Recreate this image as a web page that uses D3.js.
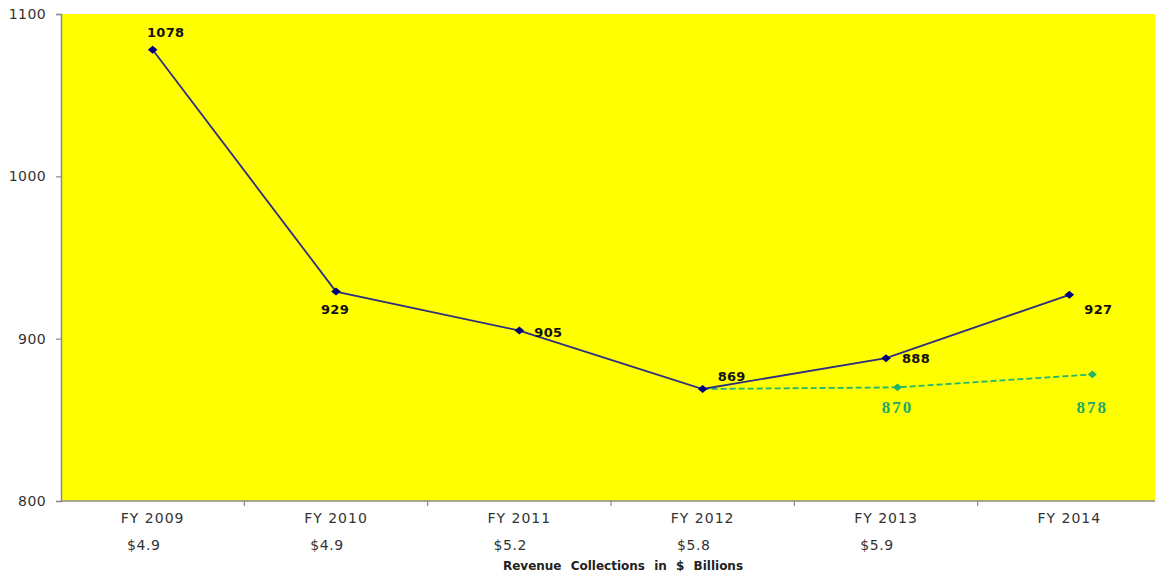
<!DOCTYPE html>
<html>
<head>
<meta charset="utf-8">
<script src="https://cdn.jsdelivr.net/npm/d3@7"></script>
<style>
  html, body { margin: 0; padding: 0; background: #fff; }
  svg { display: block; }
</style>
</head>
<body>
<script>
// Fiscal years and the two series
const years = ["FY 2009", "FY 2010", "FY 2011", "FY 2012", "FY 2013", "FY 2014"];
const actual = [1078, 929, 905, 869, 888, 927];
const projectionYears = ["FY 2012", "FY 2013", "FY 2014"];
const projection = [869, 870, 878];
const revenue = ["$4.9", "$4.9", "$5.2", "$5.8", "$5.9", ""];
const yTicks = [800, 900, 1000, 1100];

const W = 1155, H = 577;
const plot = { left: 61, right: 1161, top: 14, bottom: 501 };
const sans = "'DejaVu Sans', Verdana, sans-serif";

const svg = d3.select("body").append("svg")
  .attr("width", W).attr("height", H);

const x = d3.scaleBand().domain(years).range([plot.left, plot.right]).padding(0);
const y = d3.scaleLinear().domain([800, 1100]).range([plot.bottom, plot.top]);
const cx = d => x(d) + x.bandwidth() / 2;
// the projection runs on its own, slightly wider category spacing
const xp = d3.scalePoint().domain(projectionYears).range([cx("FY 2012"), cx("FY 2014") + 23]);

// yellow plot area
svg.append("rect")
  .attr("x", plot.left).attr("y", plot.top)
  .attr("width", plot.right - plot.left).attr("height", plot.bottom - plot.top)
  .attr("fill", "#ffff00");

// y axis
const yAxis = svg.append("g")
  .attr("transform", `translate(${plot.left},0)`)
  .call(d3.axisLeft(y).tickValues(yTicks).tickSize(5).tickPadding(10).tickFormat(d3.format("d")));
yAxis.select(".domain").attr("stroke", "#8a8a8a").attr("stroke-width", 1.5);
yAxis.selectAll(".tick line").attr("stroke", "#8a8a8a").attr("stroke-width", 1.2);
yAxis.selectAll(".tick text")
  .attr("fill", "#333").style("font-family", sans)
  .style("font-size", "14px").style("letter-spacing", "0.4px");

// x axis: ticks at category boundaries
const xAxisG = svg.append("g").attr("transform", `translate(0,${plot.bottom})`);
xAxisG.append("line")
  .attr("x1", plot.left).attr("x2", plot.right)
  .attr("stroke", "#8a8a8a").attr("stroke-width", 1.5);
xAxisG.selectAll("line.tk")
  .data(years.slice(1))
  .join("line").attr("class", "tk")
  .attr("x1", d => x(d)).attr("x2", d => x(d))
  .attr("y1", 0).attr("y2", 5)
  .attr("stroke", "#8a8a8a").attr("stroke-width", 1.2);
xAxisG.selectAll("text.yr")
  .data(years)
  .join("text").attr("class", "yr")
  .attr("x", d => cx(d)).attr("y", 22)
  .attr("text-anchor", "middle")
  .attr("fill", "#333")
  .style("font-family", sans)
  .style("font-size", "14px").style("letter-spacing", "1px")
  .text(d => d);
xAxisG.selectAll("text.rev")
  .data(years)
  .join("text").attr("class", "rev")
  .attr("x", d => cx(d) - 9).attr("y", 49)
  .attr("text-anchor", "middle")
  .attr("fill", "#333")
  .style("font-family", sans)
  .style("font-size", "14px").style("letter-spacing", "0.6px")
  .text((d, i) => revenue[i]);

// axis title
svg.append("text")
  .attr("x", 623).attr("y", 570)
  .attr("text-anchor", "middle")
  .attr("fill", "#222")
  .style("font-family", sans)
  .style("font-weight", "bold").style("font-size", "12px")
  .style("word-spacing", "5px")
  .text("Revenue Collections in $ Billions");

// diamond marker: a square turned 45°, slightly wider than tall
const diamond = (w, h) => `M${-w},0L0,${-h}L${w},0L0,${h}Z`;

// projection (dashed green)
const proj = projectionYears.map((d, i) => ({ year: d, v: projection[i] }));
svg.append("path").datum(proj)
  .attr("d", d3.line().x(d => xp(d.year)).y(d => y(d.v)))
  .attr("fill", "none").attr("stroke", "#22b86a")
  .attr("stroke-width", 1.8).attr("stroke-dasharray", "6,3");
svg.selectAll("path.pm")
  .data(proj.slice(1))
  .join("path").attr("class", "pm")
  .attr("d", diamond(4.5, 3.8))
  .attr("transform", d => `translate(${xp(d.year)},${y(d.v)})`)
  .attr("fill", "#1fb36a");
const projOffsets = [[0, 26], [0, 39]];
svg.selectAll("text.pl")
  .data(proj.slice(1))
  .join("text").attr("class", "pl")
  .attr("x", (d, i) => xp(d.year) + projOffsets[i][0])
  .attr("y", (d, i) => y(d.v) + projOffsets[i][1])
  .attr("text-anchor", "middle")
  .attr("fill", "#1daa66")
  .style("font-family", "'Liberation Serif', 'Times New Roman', serif")
  .style("font-weight", "bold").style("font-size", "17px")
  .style("letter-spacing", "2px")
  .text(d => d.v);

// actual series (navy)
const act = years.map((d, i) => ({ year: d, v: actual[i] }));
svg.append("path").datum(act)
  .attr("d", d3.line().x(d => cx(d.year)).y(d => y(d.v)))
  .attr("fill", "none").attr("stroke", "#2e2e80").attr("stroke-width", 1.8);
svg.selectAll("path.am")
  .data(act)
  .join("path").attr("class", "am")
  .attr("d", diamond(4.8, 4))
  .attr("transform", d => `translate(${cx(d.year)},${y(d.v)})`)
  .attr("fill", "#00007a");

// value labels, placed around each point
const labelOffsets = [[13, -13], [-1, 22], [29, 6], [29, -8], [30, 5], [29, 19]];
svg.selectAll("text.al")
  .data(act)
  .join("text").attr("class", "al")
  .attr("x", (d, i) => cx(d.year) + labelOffsets[i][0])
  .attr("y", (d, i) => y(d.v) + labelOffsets[i][1])
  .attr("text-anchor", "middle")
  .attr("fill", "#111")
  .style("font-family", sans)
  .style("font-weight", "bold").style("font-size", "13px")
  .style("letter-spacing", "0.3px")
  .text(d => d.v);
</script>
</body>
</html>
